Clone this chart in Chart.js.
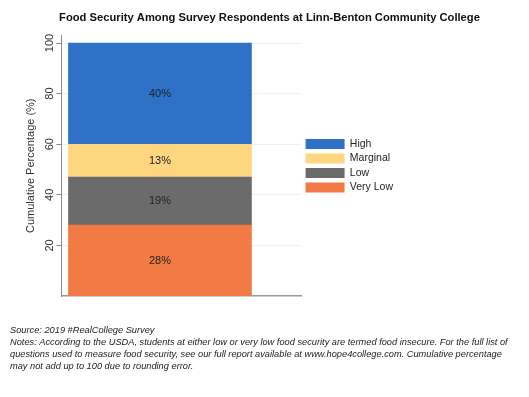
<!DOCTYPE html>
<html>
<head>
<meta charset="utf-8">
<title>Food Security Among Survey Respondents</title>
<script src="https://cdn.jsdelivr.net/npm/chart.js@4.4.1/dist/chart.umd.min.js"></script>
<style>
  html, body { margin: 0; padding: 0; background: #fff; }
  #wrap { width: 529px; height: 397px; }
</style>
</head>
<body>
<div id="wrap"><canvas id="chart" width="529" height="397"></canvas></div>
<script>
// data
const categories = ['Linn-Benton Community College'];
const levels = ['Very Low', 'Low', 'Marginal', 'High'];
const shares = [28, 19, 13, 40];
const levelColors = ['#f27a45', '#6b6b6b', '#fdd67f', '#2f71c6'];
const yTicks = [20, 40, 60, 80, 100];
const notes = [
  'Source: 2019 #RealCollege Survey',
  'Notes: According to the USDA, students at either low or very low food security are termed food insecure. For the full list of',
  'questions used to measure food security, see our full report available at www.hope4college.com. Cumulative percentage',
  'may not add up to 100 due to rounding error.'
];

Chart.defaults.font.family = '"Liberation Sans", Arial, Helvetica, sans-serif';
Chart.defaults.color = '#333';

// writes the share inside each stacked segment
const segmentLabels = {
  id: 'segmentLabels',
  afterDatasetsDraw(chart) {
    const ctx = chart.ctx;
    ctx.save();
    ctx.font = '11px "Liberation Sans", Arial, sans-serif';
    ctx.fillStyle = '#222';
    ctx.textAlign = 'center';
    ctx.textBaseline = 'middle';
    chart.data.datasets.forEach((ds, i) => {
      const meta = chart.getDatasetMeta(i);
      meta.data.forEach((bar, j) => {
        ctx.fillText(ds.data[j].y + '%', bar.x, (bar.y + bar.base) / 2);
      });
    });
    ctx.restore();
  }
};

const datasets = levels.map((name, i) => ({
  label: name,
  data: categories.map((c, j) => ({ x: j, y: shares[i] })),
  backgroundColor: levelColors[i],
  borderWidth: 0,
  barThickness: 183
}));

const ctx = document.getElementById('chart').getContext('2d');
const chartInstance = new Chart(ctx, {
  type: 'bar',
  data: { datasets: datasets },
  plugins: [segmentLabels],
  options: {
    responsive: false,
    animation: false,
    layout: { padding: { left: 10, right: 0, top: 0, bottom: 25 } },
    scales: {
      x: {
        type: 'linear',
        stacked: true,
        min: -0.388,
        max: 0.612,
        ticks: { display: false },
        grid: { display: false },
        border: { color: '#9a9a9a', width: 1.5 }
      },
      y: {
        stacked: true,
        min: 0,
        max: 103,
        afterBuildTicks: (scale) => {
          scale.ticks = yTicks.map(v => ({ value: v }));
        },
        ticks: {
          minRotation: 90,
          maxRotation: 90,
          crossAlign: 'center',
          padding: -3,
          color: '#333',
          font: { size: 11 }
        },
        grid: {
          color: '#eef2f2',
          tickColor: '#888',
          tickLength: 5
        },
        border: { color: '#8a8a8a', width: 1 },
        title: {
          display: true,
          text: 'Cumulative Percentage (%)',
          color: '#333',
          font: { size: 11 },
          padding: { top: 14, bottom: 12 }
        }
      },
      // empty axis that keeps the space right of the legend
      spacer: {
        type: 'linear',
        position: 'right',
        weight: 2000,
        display: true,
        ticks: { display: false },
        grid: { display: false },
        border: { display: false },
        afterFit: (scale) => { scale.width = 126; }
      }
    },
    plugins: {
      title: {
        display: true,
        text: 'Food Security Among Survey Respondents at Linn-Benton Community College',
        color: '#111',
        font: { size: 11.2, weight: 'bold' },
        padding: { top: 11, bottom: 11 }
      },
      subtitle: {
        display: true,
        position: 'bottom',
        align: 'start',
        text: notes,
        color: '#222',
        font: { size: 9.25, style: 'italic', lineHeight: '12px' },
        padding: { top: 20, bottom: 0 }
      },
      legend: {
        position: 'right',
        fullSize: false,
        maxWidth: 110,
        reverse: true,
        labels: {
          boxWidth: 39,
          boxHeight: 10,
          padding: 4,
          color: '#222',
          font: { size: 10.5 }
        }
      },
      tooltip: { enabled: false }
    }
  }
});
</script>
</body>
</html>
